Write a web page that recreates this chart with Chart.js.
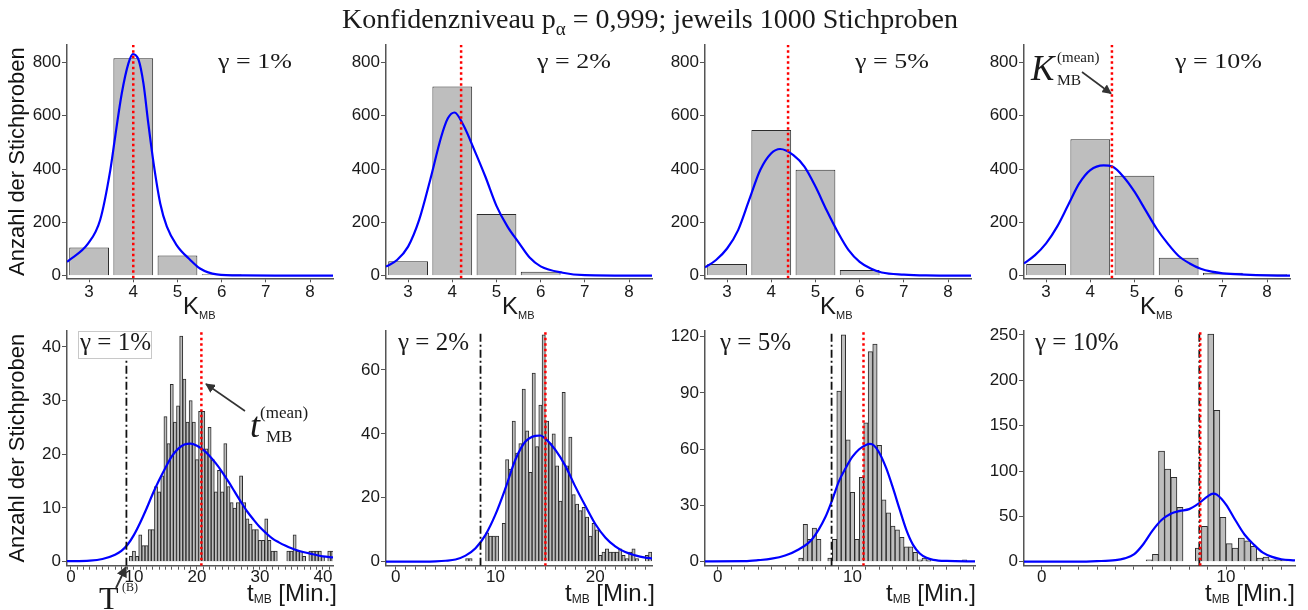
<!DOCTYPE html>
<html>
<head>
<meta charset="utf-8">
<title>Konfidenzniveau p = 0,999</title>
<script src="https://cdn.jsdelivr.net/npm/chart.js@4.4.1/dist/chart.umd.min.js"></script>
<style>
  html, body { margin: 0; padding: 0; background: #fff; }
  #wrap { position: relative; width: 1308px; height: 610px; overflow: hidden; background: #fff; }
  #wrap canvas { position: absolute; }
  .lbl { position: absolute; white-space: nowrap; line-height: 1; color: #1a1a1a; }
  .sans { font-family: "Liberation Sans", Arial, sans-serif; }
  .serif { font-family: "Liberation Serif", "Times New Roman", serif; }
  .shift { position: relative; }
  #gbox { position: absolute; left: 78px; top: 331px; width: 72px; height: 26px; border: 1px solid #c8c8c8; background: #fff; }
  #arrows { position: absolute; left: 0; top: 0; }
</style>
</head>
<body>
<div id="wrap">
  <div id="gbox"></div>
</div>
<script>
"use strict";

// ------------------------------------------------------- //
// Data: K_MB histograms (top row)
// ------------------------------------------------------ //
var kCats = [3, 4, 5, 6, 7, 8];
var kCount1 = [106, 815, 76, 5, 0, 0];
var kCount2 = [54, 709, 231, 15, 0, 0];
var kCount3 = [44, 546, 397, 21, 2, 0];
var kCount4 = [44, 512, 375, 67, 11, 5];
var kMean = [4.0, 4.2, 4.38, 4.49];

// density curves: [K, count]
var kDens1 = [[2.5,52],[2.98,121],[3.25,209],[3.48,396],[3.59,521],[3.74,684],[3.89,796],[3.99,831],[4.12,809],[4.23,721],[4.34,571],[4.46,421],[4.61,271],[4.76,184],[4.98,115],[5.29,59],[5.51,27],[5.89,5],[6.5,1],[7.2,0],[8.52,0]];
var kDens2 = [[2.5,34],[2.75,59],[3,109],[3.25,209],[3.5,359],[3.75,521],[3.9,590],[4.05,612],[4.25,565],[4.5,471],[4.75,371],[5,262],[5.25,184],[5.5,125],[5.75,68],[6,35],[6.5,11],[7,2],[8.52,0]];
var kDens3 = [[2.5,31],[2.75,59],[3,102],[3.25,171],[3.5,284],[3.75,396],[4,459],[4.2,475],[4.5,452],[4.75,409],[5,334],[5.25,246],[5.5,165],[5.75,96],[6,52],[6.25,27],[6.5,12],[7,4],[7.5,1],[8.52,0]];
var kDens4 = [[2.5,46],[2.75,77],[3,121],[3.25,184],[3.5,265],[3.75,346],[4,396],[4.3,414],[4.5,409],[4.75,371],[5,315],[5.25,246],[5.5,177],[5.75,121],[6,74],[6.25,46],[6.5,26],[6.75,15],[7,9],[7.5,4],[8,1],[8.52,0]];

// ------------------------------------------------------- //
// Data: t_MB histograms (bottom row)
// ------------------------------------------------------ //
var tBins1 = [9.5,10,10.5,11,11.5,12,12.5,13,13.5,14,14.5,15,15.5,16,16.5,17,17.5,18,18.5,19,19.5,20,20.5,21,21.5,22,22.5,23,23.5,24,24.5,25,25.5,26,26.5,27,27.5,28,28.5,29,29.5,30,30.5,31,31.5,32,32.5,33,33.5,34,34.5,35,35.5,36,36.5,37,37.5,38,38.5,39,39.5,40,40.5,41,41.5];
var tCount1 = [1,2,1,5,3,3,6,6,14,13,16,27,22,33,26,29,42,34,26,30,26,19,28,28,21,25,19,13,17,13,22,14,11,10,11,16,11,8,7,6,6,4,4,8,4,2,2,0,0,0,2,2,5,2,2,1,0,2,2,2,2,1,0,2,2];

var tBins2 = [7.17,7.5,9.17,9.5,9.83,10.17,10.83,11.17,11.5,11.83,12.17,12.5,12.83,13.17,13.5,13.83,14.17,14.5,14.83,15.17,15.5,15.83,16.17,16.5,16.83,17.17,17.5,17.83,18.17,18.5,18.83,19.17,19.5,19.83,20.17,20.5,20.83,21.17,21.5,21.83,22.17,22.5,22.83,23.17,23.5,23.83,24.17,25.17,25.5];
var tCount2 = [1,1,9,8,8,8,12,32,29,44,34,37,54,41,28,59,36,49,71,44,37,40,30,19,53,30,39,21,18,16,17,14,8,12,10,2,3,4,3,3,3,4,2,1,3,4,1,2,3];

var tBins3 = [6.17,6.5,6.83,7.17,7.5,8.33,8.67,9,9.33,9.67,10,10.33,10.67,11,11.33,11.67,12,12.33,12.67,13,13.33,13.67,14,14.33,14.67,15,15.33,15.67,18.33];
var tCount3 = [2,20,12,18,12,2,12,91,121,65,37,12,45,74,112,116,62,33,26,19,17,13,8,8,5,1,2,1,1];

var tBins4 = [5.83,6.17,6.5,6.83,7.17,7.5,8.5,8.83,9.17,9.5,9.83,10.17,10.5,10.83,11.17,11.5,11.83,12.17,12.5,12.83,13.17];
var tCount4 = [2,8,122,102,93,60,15,39,251,167,49,20,15,26,23,17,4,5,2,2,2];

var tMean = [20.7, 15.0, 10.82, 8.6];
var tB = [8.8, 8.5, 8.45, 8.55];

var tDens1 = [[-0.63,0.1],[3,0.2],[5,0.5],[7,1.3],[8,2.0],[9,3.2],[10,5.0],[11,7.3],[12,9.9],[13,12.7],[14,15.2],[15,17.5],[16,19.6],[17,21.0],[18,21.8],[19,22.0],[20,21.6],[21,20.8],[22,19.7],[23,18.3],[24,16.7],[25,14.9],[26,13.0],[27,11.1],[28,9.3],[29,7.8],[30,6.4],[31,5.3],[32,4.3],[33,3.6],[34,3.0],[35,2.5],[36,2.1],[38,1.5],[40,1.0],[41.59,0.8]];
var tDens2 = [[-0.97,0],[3,0],[4,0.1],[5,0.3],[6,0.7],[7,1.9],[8,4.2],[9,8.4],[10,14.8],[11,23],[12,32],[13,37.6],[14,39.4],[14.5,39.5],[15,38.5],[16,35],[17,30],[18,23.5],[19,17.5],[20,11.8],[21,7.6],[22,4.8],[23,3.0],[24,2.0],[25,1.3],[25.68,1.0]];
var tDens3 = [[-0.95,0.2],[2,0.3],[3,0.8],[4,1.6],[5,3.3],[6,6.5],[7,12],[8,24],[8.5,33],[9,43],[9.5,50],[10,56],[10.5,60],[11,62.3],[11.3,62.8],[11.6,62],[12,58],[12.5,50],[13,39.5],[13.5,28],[14,17],[14.5,9],[15,4.4],[15.5,2.1],[16,1.0],[17,0.4],[19.1,0.2]];
var tDens4 = [[-0.96,0],[2,0],[3,0.6],[4,1.8],[4.5,3.7],[5,8],[5.5,19],[6,34],[6.5,46],[7,53],[7.5,56],[8,58],[8.5,64],[9,72],[9.3,75],[9.5,74],[10,63],[10.5,46],[11,30],[11.5,19],[12,10],[12.5,5.3],[13,2.7],[13.74,1.5]];

var gammas = ["γ = 1%", "γ = 2%", "γ = 5%", "γ = 10%"];
var yTitle = "Anzahl der Stichproben";

// ------------------------------------------------------- //
// Layout
// ------------------------------------------------------ //
var axisCol = "#555";
var tickCol = "#1a1a1a";
Chart.defaults.font.family = '"Liberation Sans", Arial, sans-serif';
Chart.defaults.animation = false;

var wrap = document.getElementById("wrap");

function addCanvas(left, top, w, h) {
    var c = document.createElement("canvas");
    c.width = w;
    c.height = h;
    c.style.left = left + "px";
    c.style.top = top + "px";
    c.style.width = w + "px";
    c.style.height = h + "px";
    wrap.insertBefore(c, wrap.firstChild);
    return c;
}

function addLabel(html, left, top, size, cls, extra) {
    var d = document.createElement("div");
    d.className = "lbl " + cls;
    d.style.left = left + "px";
    d.style.top = top + "px";
    d.style.fontSize = size + "px";
    if (extra) Object.assign(d.style, extra);
    d.innerHTML = html;
    wrap.appendChild(d);
    return d;
}

function drawPanel(canvas, p) {
    var bars = p.cats.map(function (c, i) {
        return { x: c, y: p.counts[i] > 0 ? p.counts[i] : null };
    });
    var datasets = [
        {
            type: "bar",
            data: bars,
            backgroundColor: "#bebebe",
            borderColor: "#2b2b2b",
            borderWidth: 1,
            barPercentage: p.barPct,
            categoryPercentage: 1,
            order: 4,
        },
        {
            type: "line",
            data: p.dens.map(function (d) { return { x: d[0], y: d[1] }; }),
            borderColor: "#0000ff",
            borderWidth: 2.2,
            pointRadius: 0,
            tension: 0.4,
            cubicInterpolationMode: "monotone",
            fill: false,
            order: 3,
        },
    ];
    if (p.tb != null) {
        datasets.push({
            type: "line",
            data: [{ x: p.tb, y: p.yMin }, { x: p.tb, y: p.yMax }],
            borderColor: "#111",
            borderWidth: 1.8,
            borderDash: [8, 3, 2, 3],
            pointRadius: 0,
            order: 2,
        });
    }
    datasets.push({
        type: "line",
        data: [{ x: p.mean, y: p.yMin }, { x: p.mean, y: p.yMax }],
        borderColor: "#ff0000",
        borderWidth: 2.5,
        borderDash: [2.5, 3],
        pointRadius: 0,
        order: 1,
    });

    return new Chart(canvas, {
        type: "bar",
        data: { datasets: datasets },
        options: {
            responsive: false,
            animation: false,
            layout: { padding: { left: 0, right: p.padR, top: p.padTop, bottom: 0 } },
            plugins: { legend: { display: false }, tooltip: { enabled: false } },
            scales: {
                x: {
                    type: "linear",
                    min: p.xMin,
                    max: p.xMax,
                    offset: false,
                    grid: { display: true, offset: false, drawOnChartArea: false, drawTicks: true, tickLength: 4, color: axisCol },
                    border: { display: true, color: axisCol, width: 1.5 },
                    ticks: {
                        stepSize: 1,
                        includeBounds: false,
                        autoSkip: false,
                        maxRotation: 0,
                        padding: p.xPad,
                        color: tickCol,
                        font: { size: 17 },
                        callback: function (v) { return v % p.labelEvery === 0 ? String(v) : ""; },
                    },
                    afterFit: function (s) { s.height = p.xH; },
                },
                y: {
                    type: "linear",
                    min: p.yMin,
                    max: p.yMax,
                    grid: { display: true, drawOnChartArea: false, drawTicks: true, tickLength: 5, color: axisCol },
                    border: { display: true, color: axisCol, width: 1.5 },
                    ticks: { stepSize: p.yStep, includeBounds: false, padding: 1, color: tickCol, font: { size: 17 } },
                    title: {
                        display: p.showTitle,
                        text: yTitle,
                        color: "#111",
                        font: { size: 22 },
                        padding: { top: 5, bottom: 0 },
                    },
                    afterFit: function (s) { s.width = 67; },
                },
            },
        },
    });
}

// ------------------------------------------------------- //
// Top row: K_MB
// ------------------------------------------------------ //
var kCounts = [kCount1, kCount2, kCount3, kCount4];
var kDens = [kDens1, kDens2, kDens3, kDens4];
var colLeft = [0, 319, 638, 957];

for (var i = 0; i < 4; i++) {
    drawPanel(addCanvas(colLeft[i], 30, 340, 270), {
        cats: kCats, counts: kCounts[i], dens: kDens[i], mean: kMean[i], tb: null,
        xMin: 2.5, xMax: 8.52, yMin: -9.75, yMax: 865, yStep: 200,
        labelEvery: 1, barPct: 0.9, xH: 21.7, xPad: 0.3, padTop: 15, padR: 7,
        showTitle: i === 0,
    });
}

// ------------------------------------------------------- //
// Bottom row: t_MB
// ------------------------------------------------------ //
var tBins = [tBins1, tBins2, tBins3, tBins4];
var tCounts = [tCount1, tCount2, tCount3, tCount4];
var tDens = [tDens1, tDens2, tDens3, tDens4];
var botBox = [
    { xMin: -0.63, xMax: 41.59, yMin: -0.74, yMax: 43, yStep: 10, padR: 7 },
    { xMin: -0.97, xMax: 25.68, yMin: -1.25, yMax: 72.3, yStep: 20, padR: 7 },
    { xMin: -0.95, xMax: 19.1, yMin: -2.13, yMax: 123.2, yStep: 30, padR: 3 },
    { xMin: -0.96, xMax: 13.74, yMin: -4.4, yMax: 254.7, yStep: 50, padR: 2 },
];

for (var j = 0; j < 4; j++) {
    var b = botBox[j];
    drawPanel(addCanvas(colLeft[j], 300, 340, 310), {
        cats: tBins[j], counts: tCounts[j], dens: tDens[j], mean: tMean[j], tb: tB[j],
        xMin: b.xMin, xMax: b.xMax, yMin: b.yMin, yMax: b.yMax, yStep: b.yStep,
        labelEvery: 10, barPct: 1, xH: 44.3, xPad: -2.1, padTop: 30.7, padR: b.padR,
        showTitle: j === 0,
    });
}

// ------------------------------------------------------- //
// Texts
// ------------------------------------------------------ //
addLabel('Konfidenzniveau p<span class="shift" style="font-size:19px;top:7px">α</span> = 0,999; jeweils 1000 Stichproben',
    650, 4.5, 28, "serif", { transform: "translateX(-50%)" });

var kLabLeft = [183, 502, 820, 1140];
var gTopLeft = [218, 537, 855, 1175];
var gBotLeft = [80, 398, 720, 1035];
var tLabRight = [337, 655, 976, 1295];

for (var n = 0; n < 4; n++) {
    addLabel('K<span class="shift" style="font-size:11px;top:5px">MB</span>', kLabLeft[n], 293.7, 24, "sans");
    addLabel('t<span class="shift" style="font-size:12px;top:2px">MB</span> [Min.]', tLabRight[n], 580.7, 24, "sans",
        { transform: "translateX(-100%)" });
    addLabel(gammas[n], gTopLeft[n], 50.5, 20, "serif", { transform: "scaleX(1.3)", transformOrigin: "left top" });
    addLabel(gammas[n], gBotLeft[n], 329, 25, "serif");
}

// annotations
addLabel("<i>K</i>", 1031, 50.7, 35, "serif");
addLabel("(mean)", 1057, 50, 15, "serif");
addLabel("MB", 1057, 72, 15.5, "serif");

addLabel("<i>t</i>", 250, 406.6, 36, "serif");
addLabel("(mean)", 260, 404, 17, "serif");
addLabel("MB", 266, 427.5, 17, "serif");

addLabel("T", 99, 581.5, 32, "serif");
addLabel("(B)", 122, 581, 12, "serif");

// arrows
var svgNS = "http://www.w3.org/2000/svg";
var svg = document.createElementNS(svgNS, "svg");
svg.setAttribute("id", "arrows");
svg.setAttribute("width", "1308");
svg.setAttribute("height", "610");
svg.innerHTML =
    '<defs><marker id="ah" viewBox="0 0 10 10" refX="9" refY="5" markerWidth="6" markerHeight="6" orient="auto">' +
    '<path d="M0,0 L10,5 L0,10 z" fill="#333"/></marker></defs>' +
    '<line x1="1082" y1="72" x2="1111" y2="93.5" stroke="#333" stroke-width="1.6" marker-end="url(#ah)"/>' +
    '<line x1="245" y1="411" x2="206" y2="384" stroke="#333" stroke-width="1.6" marker-end="url(#ah)"/>' +
    '<line x1="116" y1="588" x2="126" y2="567" stroke="#333" stroke-width="1.8" marker-end="url(#ah)"/>';
wrap.appendChild(svg);
</script>
</body>
</html>
